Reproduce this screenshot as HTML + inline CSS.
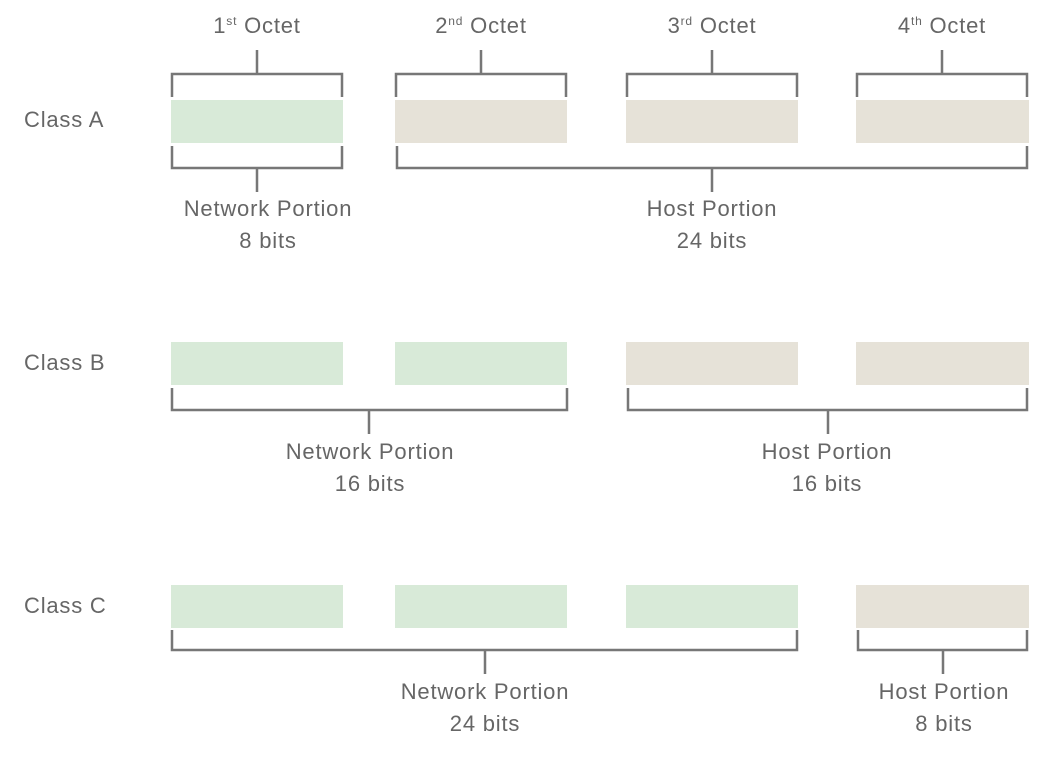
<!DOCTYPE html>
<html><head><meta charset="utf-8"><style>
html,body{margin:0;padding:0;background:#fff;}
svg{display:block;}
text{font-family:"Liberation Sans",sans-serif;font-size:22px;fill:#666;letter-spacing:0.8px;}
</style></head><body>
<svg width="1062" height="758" viewBox="0 0 1062 758" xmlns="http://www.w3.org/2000/svg">
<g text-anchor="middle">
<text x="257" y="33">1<tspan font-size="12" dy="-8">st</tspan><tspan dy="8"> Octet</tspan></text>
<text x="481" y="33">2<tspan font-size="12" dy="-8">nd</tspan><tspan dy="8"> Octet</tspan></text>
<text x="712" y="33">3<tspan font-size="12" dy="-8">rd</tspan><tspan dy="8"> Octet</tspan></text>
<text x="942" y="33">4<tspan font-size="12" dy="-8">th</tspan><tspan dy="8"> Octet</tspan></text>
</g>
<text x="24" y="127">Class A</text>
<text x="24" y="370">Class B</text>
<text x="24" y="613">Class C</text>
<g fill="#d8ead8">
<rect x="171" y="100" width="172" height="43"/>
<rect x="171" y="342" width="172" height="43"/><rect x="395" y="342" width="172" height="43"/>
<rect x="171" y="585" width="172" height="43"/><rect x="395" y="585" width="172" height="43"/><rect x="626" y="585" width="172" height="43"/>
</g>
<g fill="#e6e2d8">
<rect x="395" y="100" width="172" height="43"/><rect x="626" y="100" width="172" height="43"/><rect x="856" y="100" width="173" height="43"/>
<rect x="626" y="342" width="172" height="43"/><rect x="856" y="342" width="173" height="43"/>
<rect x="856" y="585" width="173" height="43"/>
</g>
<g fill="none" stroke="#777" stroke-width="2.5">
<path d="M172 97V74H342V97M257 50V74"/>
<path d="M396 97V74H566V97M481 50V74"/>
<path d="M627 97V74H797V97M712 50V74"/>
<path d="M857 97V74H1027V97M942 50V74"/>
<path d="M172 146V168H342V146M257 168V192"/>
<path d="M397 146V168H1027V146M712 168V192"/>
<path d="M172 388V410H567V388M369 410V434"/>
<path d="M628 388V410H1027V388M828 410V434"/>
<path d="M172 630V650H797V630M485 650V674"/>
<path d="M858 630V650H1027V630M943 650V674"/>
</g>
<g text-anchor="middle">
<text x="268" y="216">Network Portion</text><text x="268" y="248">8 bits</text>
<text x="712" y="216">Host Portion</text><text x="712" y="248">24 bits</text>
<text x="370" y="459">Network Portion</text><text x="370" y="491">16 bits</text>
<text x="827" y="459">Host Portion</text><text x="827" y="491">16 bits</text>
<text x="485" y="699">Network Portion</text><text x="485" y="731">24 bits</text>
<text x="944" y="699">Host Portion</text><text x="944" y="731">8 bits</text>
</g>
</svg>
</body></html>
